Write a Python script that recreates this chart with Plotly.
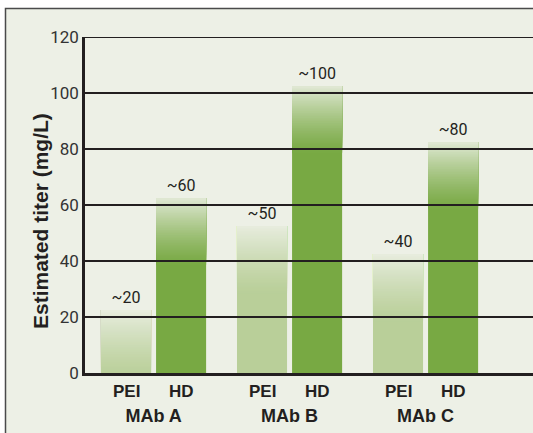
import plotly.graph_objects as go

# ---- data ----
groups = ["MAb A", "MAb B", "MAb C"]
series = ["PEI", "HD"]
pei_titer = [20, 50, 40]
hd_titer = [60, 100, 80]
pei_labels = ["~20", "~50", "~40"]
hd_labels = ["~60", "~100", "~80"]
y_ticks = [0, 20, 40, 60, 80, 100, 120]

# ---- style ----
BG = (237, 240, 230)
PEI_COLOR = (185, 207, 153)
HD_COLOR = (120, 169, 67)
INK = "#231f20"
FONT = "Roboto"
BOLD_FONT = "Liberation Sans"
BAR_W = 0.368        # bar width in category units
PAIR_GAP = 0.037     # gap between the two bars of a pair
CAP = 2.5            # faint cap drawn above the value
FADE = 24            # height of the fade toward the top
STEPS = 40

W, H = 533, 433
ML, MR, MT, MB = 85, 0, 37, 60
plot_w = W - ML - MR
plot_h = H - MT - MB


def blend(c, t):
    return "rgb(%d,%d,%d)" % tuple(round(a + (b - a) * t) for a, b in zip(c, BG))


offsets = {"PEI": -(BAR_W + PAIR_GAP / 2), "HD": PAIR_GAP / 2}
fig = go.Figure()

for name, vals, labels, col in [("PEI", pei_titer, pei_labels, PEI_COLOR),
                                ("HD", hd_titer, hd_labels, HD_COLOR)]:
    tops = [v + CAP for v in vals]
    solid = [t - FADE for t in tops]
    # full-colour bar, then progressively paler layers stacked from higher bases
    fig.add_trace(go.Bar(
        x=groups, y=tops, base=[0] * len(vals), width=BAR_W, offset=offsets[name],
        marker=dict(color=blend(col, 0), line=dict(width=0)),
        hoverinfo="skip", showlegend=False))
    step = FADE / STEPS
    for i in range(1, STEPS + 1):
        t = (i / STEPS) ** 1.3 * 0.88
        last = i == STEPS
        bases = [max(0, s + i * step - step) for s in solid]
        fig.add_trace(go.Bar(
            x=groups, y=[tp - b for tp, b in zip(tops, bases)], base=bases,
            width=BAR_W, offset=offsets[name],
            marker=dict(color=blend(col, t), line=dict(width=0)),
            text=labels if last else None,
            textposition="outside" if last else "none",
            textfont=dict(family=FONT, size=16, color=INK),
            cliponaxis=False, hoverinfo="skip", showlegend=False))

shapes = [
    # panel background with its frame
    dict(type="rect", xref="paper", yref="paper",
         x0=(5.5 - ML) / plot_w, x1=1.2, y0=-0.4, y1=(plot_h + MT - 8.5) / plot_h,
         fillcolor="rgb(%d,%d,%d)" % BG, line=dict(color="#4a4a4a", width=1.5),
         layer="below"),
]
# horizontal rules drawn over the bars
for yv in y_ticks[1:]:
    shapes.append(dict(type="line", xref="paper", yref="y", x0=0, x1=1, y0=yv, y1=yv,
                       line=dict(color=INK, width=2.2), layer="above"))

annotations = [
    dict(text="<b>Estimated titer (mg/L)</b>", textangle=-90, xref="paper", yref="paper",
         x=(40 - ML) / plot_w, y=(plot_h + MT - 221) / plot_h, xanchor="center",
         yanchor="middle", showarrow=False,
         font=dict(family=BOLD_FONT, size=21, color=INK)),
]
for i, g in enumerate(groups):
    for name in series:
        annotations.append(dict(
            text="<b>%s</b>" % name, xref="x", yref="paper",
            x=i + offsets[name] + BAR_W / 2, y=0, yshift=-18,
            xanchor="center", yanchor="middle", showarrow=False,
            font=dict(family=BOLD_FONT, size=17, color=INK)))

fig.update_layout(
    width=W, height=H, margin=dict(l=ML, r=MR, t=MT, b=MB),
    paper_bgcolor="white", plot_bgcolor="rgba(0,0,0,0)",
    barmode="overlay", showlegend=False,
    shapes=shapes, annotations=annotations,
    xaxis=dict(type="category", categoryarray=groups, range=[-0.504, 2.79],
               showgrid=False, zeroline=False, showline=True, linecolor=INK,
               linewidth=3, layer="above traces", ticks="",
               tickvals=groups, ticktext=["<b>%s</b>" % g for g in groups],
               ticklabelstandoff=24,
               tickfont=dict(family=BOLD_FONT, size=18, color=INK)),
    yaxis=dict(range=[0, 120], tickvals=y_ticks, showgrid=False, zeroline=False,
               showline=True, linecolor=INK, linewidth=2.5, layer="above traces",
               ticks="", ticklabelstandoff=0,
               tickfont=dict(family=FONT, size=17, color="#333333")),
)

fig.write_html("out.html")
